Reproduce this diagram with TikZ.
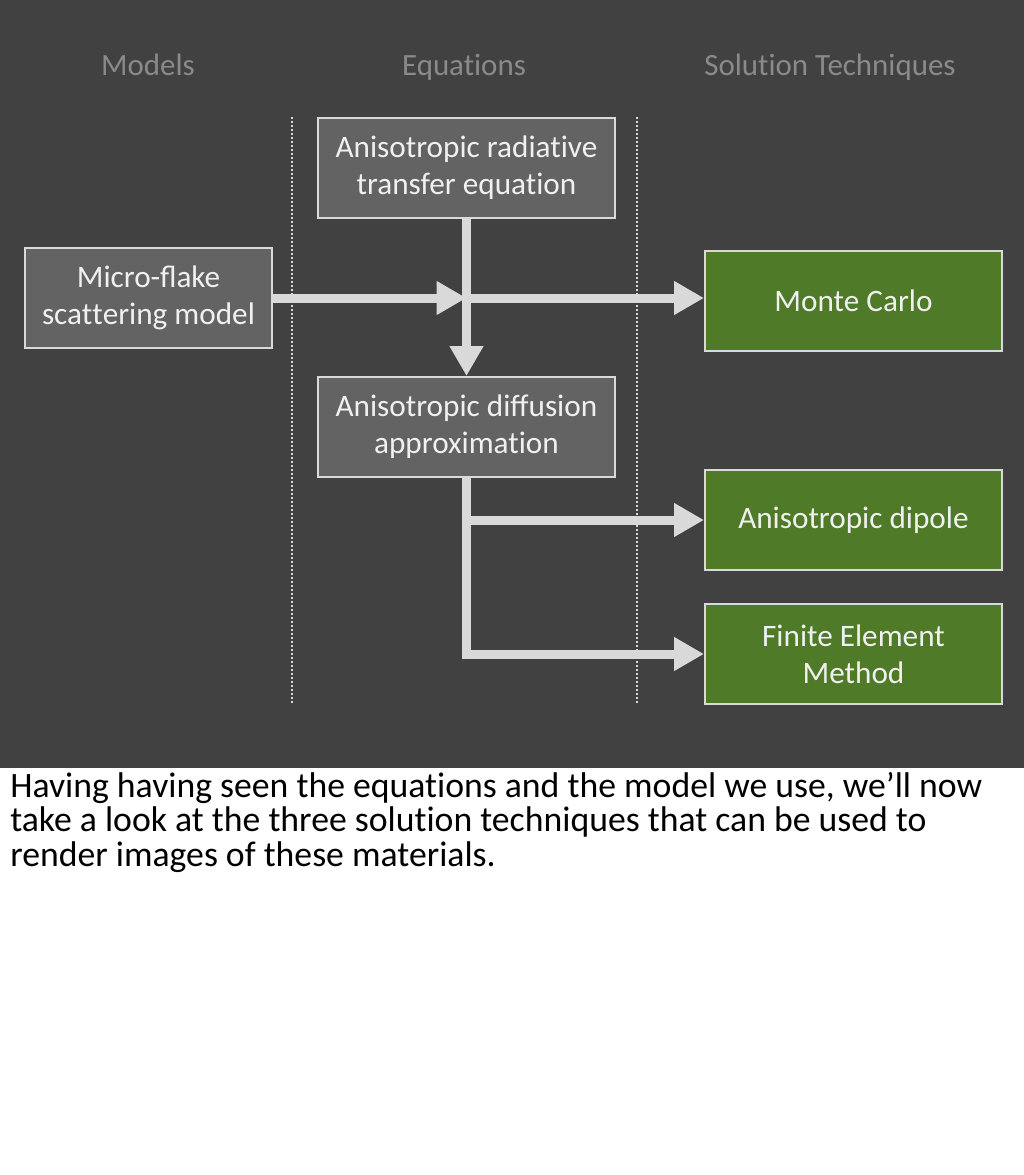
\documentclass[tikz,border=0pt]{standalone}
\usepackage{fontspec}
\setmainfont{Carlito}
\usetikzlibrary{arrows.meta,positioning}
\definecolor{slidebg}{RGB}{65,65,65}
\definecolor{boxgray}{RGB}{99,99,99}
\definecolor{edgec}{RGB}{217,217,217}
\definecolor{solgreen}{RGB}{79,122,40}
\definecolor{headc}{RGB}{138,138,138}
% break the t-t / t-i ligatures of the font
\newcommand{\nolig}{\kern0pt}

\tikzset{
  eqbox/.style={draw=edgec,line width=0.5mm,fill=boxgray,text=white!94!black,
    minimum width=74.25mm,minimum height=25mm,align=center,inner sep=0pt,
    font=\fontsize{22.2}{26.3}\selectfont},
  solbox/.style={eqbox,fill=solgreen},
  headtext/.style={text=headc,anchor=base,font=\fontsize{22}{26}\selectfont},
  flow/.style={draw=edgec,line width=2.25mm,-{Triangle[length=7.5mm,width=8mm]}},
  sep/.style={draw=edgec,line width=0.5mm,dash pattern=on 0.5mm off 0.5mm}
}

\begin{document}
\begin{tikzpicture}[x=0.25mm,y=-0.25mm]
  \useasboundingbox (0,0) rectangle (1024,1175);
  % ---- slide ----
  \fill[slidebg] (0,0) rectangle (1024,768);
  % ---- column headers ----
  \node[headtext] (hmod) at (148,75) {Models};
  \node[headtext] (heq) at (464,75) {Equat\nolig ions};
  \node[headtext] (hsol) at (830,75) {Solut\nolig ion Techniques};
  % ---- column separators ----
  \draw[sep] (292,117) -- (292,703);
  \draw[sep] (637,117) -- (637,703);
  % ---- boxes ----
  \node[eqbox,minimum width=61.75mm] (micro) at (148.5,298) {Micro-flake\\scat\nolig t\nolig ering model};
  \node[eqbox] (rte) at (466.5,168) {Anisotropic radiat\nolig ive\\transfer equat\nolig ion};
  \node[eqbox] (diff) at (466.5,427) {Anisotropic diffusion\\approximat\nolig ion};
  \node[solbox] (mc) at (853.5,301) {Monte Carlo};
  \node[solbox] (dip) at (853.5,520) {Anisotropic dipole};
  \node[solbox] (fem) at (853.5,654) {Finite Element\\Method};
  % ---- connectors ----
  \coordinate (jmid) at (rte.south |- micro.east);
  \draw[flow] (rte.south) -- (diff.north);
  \draw[flow] (micro.east) -- (jmid);
  \draw[flow] (jmid) -- (jmid -| mc.west);
  \draw[flow] (diff.south) |- (fem.west);
  \draw[flow] (diff.south |- dip.west) -- (dip.west);
  % ---- notes ----
  \node[anchor=base west,align=left,inner sep=0pt,
        font=\fontsize{25.4}{24.2}\selectfont] (notes) at (10,866)
      {Having having seen the equat\nolig ions and the model we use, we’ll now\\
       take a look at the three solut\nolig ion techniques that can be used to\\
       render images of these materials.};
\end{tikzpicture}
\end{document}
